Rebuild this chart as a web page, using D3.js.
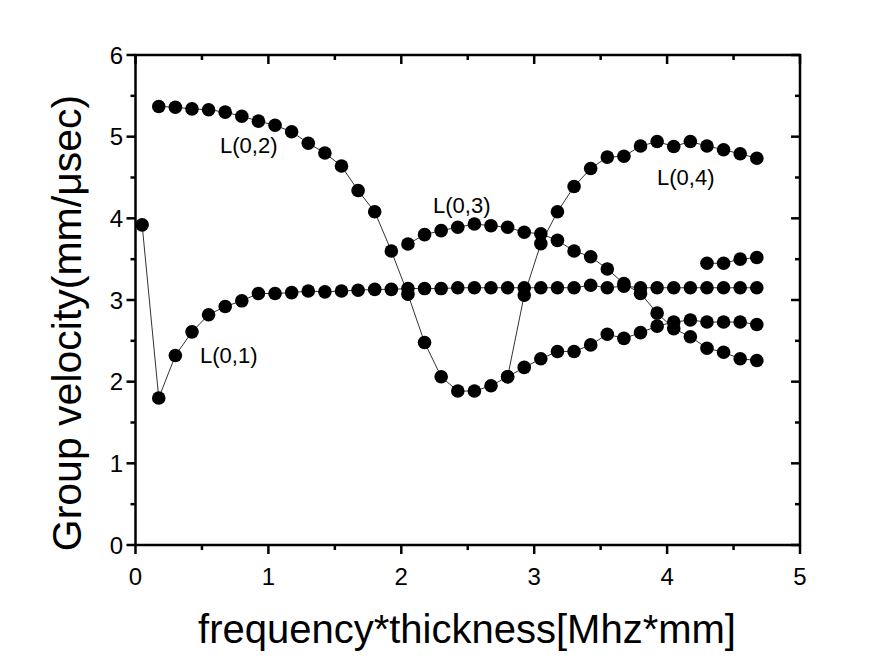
<!DOCTYPE html>
<html><head><meta charset="utf-8">
<script src="https://cdn.jsdelivr.net/npm/d3@7/dist/d3.min.js"></script>
<style>body{margin:0;background:#fff}svg{display:block}text{font-family:Arial,"Liberation Sans",sans-serif;fill:#000}</style>
</head><body><svg id="c" width="894" height="670"></svg>
<script>
// x values (frequency*thickness)
const xL01 = [0.05,0.175,0.3,0.425,0.55,0.675,0.8,0.925,1.05,1.175,1.3,1.425,1.55,1.675,1.8,1.925,2.05,2.175,2.3,2.425,2.55,2.675,2.8,2.925,3.05,3.175,3.3,3.425,3.55,3.675,3.8,3.925,4.05,4.175,4.3,4.425,4.55,4.675];
const yL01 = [3.92,1.80,2.32,2.61,2.82,2.92,2.99,3.08,3.08,3.09,3.11,3.10,3.11,3.12,3.13,3.13,3.14,3.14,3.14,3.15,3.15,3.15,3.15,3.15,3.15,3.15,3.15,3.18,3.15,3.17,3.15,3.15,3.15,3.15,3.15,3.15,3.15,3.15];

const xL02 = [0.175,0.3,0.425,0.55,0.675,0.8,0.925,1.05,1.175,1.3,1.425,1.55,1.675,1.8,1.925,2.05,2.175,2.3,2.425,2.55,2.675,2.8,2.925,3.05,3.175,3.3,3.425,3.55,3.675,3.8,3.925,4.05,4.175,4.3,4.425,4.55,4.675];
const yL02 = [5.37,5.36,5.34,5.33,5.30,5.25,5.19,5.14,5.06,4.92,4.80,4.64,4.34,4.08,3.60,3.07,2.48,2.06,1.885,1.885,1.95,2.06,3.06,3.69,4.08,4.39,4.61,4.75,4.76,4.885,4.94,4.88,4.94,4.885,4.84,4.79,4.735];

const xL03 = [2.05,2.175,2.3,2.425,2.55,2.675,2.8,2.925,3.05,3.175,3.3,3.425,3.55,3.675,3.8,3.925,4.05,4.175,4.3,4.425,4.55,4.675];
const yL03 = [3.685,3.80,3.85,3.89,3.93,3.91,3.89,3.83,3.81,3.73,3.60,3.53,3.38,3.20,3.08,2.84,2.65,2.55,2.41,2.36,2.28,2.26];

const xLow = [2.8,2.925,3.05,3.175,3.3,3.425,3.55,3.675,3.8,3.925,4.05,4.175,4.3,4.425,4.55,4.675];
const yLow = [2.06,2.175,2.28,2.37,2.37,2.45,2.58,2.53,2.60,2.68,2.73,2.755,2.73,2.73,2.73,2.70];

const xUp = [4.3,4.425,4.55,4.675];
const yUp = [3.45,3.45,3.50,3.52];

const xTicks = [0,1,2,3,4,5];
const yTicks = [0,1,2,3,4,5,6];
const modeLabels = ["L(0,1)","L(0,2)","L(0,3)","L(0,4)"];

const svg = d3.select("#c");
const x = d3.scaleLinear().domain([0,5]).range([135.5,800]);
const y = d3.scaleLinear().domain([0,6]).range([545,55]);

const series = [[xL01,yL01],[xL02,yL02],[xL03,yL03],[xLow,yLow],[xUp,yUp]];
const line = d3.line().x(d=>x(d[0])).y(d=>y(d[1]));
const g = svg.append("g");
series.forEach(([xs,ys])=>{
  const pts = xs.map((v,i)=>[v,ys[i]]);
  g.append("path").attr("d",line(pts)).attr("fill","none").attr("stroke","#333").attr("stroke-width",1);
});
series.forEach(([xs,ys])=>{
  const pts = xs.map((v,i)=>[v,ys[i]]);
  g.selectAll(null).data(pts).enter().append("circle")
    .attr("cx",d=>x(d[0])).attr("cy",d=>y(d[1])).attr("r",6.8).attr("fill","#000");
});

// frame and ticks
const minorX = d3.range(0,5.01,0.5), minorY = d3.range(0,6.01,0.5);
const f = svg.append("g").attr("stroke","#000").attr("stroke-width",2.5);
f.append("rect").attr("x",x(0)).attr("y",y(6)).attr("width",x(5)-x(0)).attr("height",y(0)-y(6)).attr("fill","none");
minorX.forEach(v=>{
  const L = Number.isInteger(v)?9:5;
  f.append("line").attr("x1",x(v)).attr("x2",x(v)).attr("y1",y(0)).attr("y2",y(0)+L);
  f.append("line").attr("x1",x(v)).attr("x2",x(v)).attr("y1",y(6)).attr("y2",y(6)+L);
});
minorY.forEach(v=>{
  const L = Number.isInteger(v)?9:5;
  f.append("line").attr("y1",y(v)).attr("y2",y(v)).attr("x1",x(0)).attr("x2",x(0)-L);
  f.append("line").attr("y1",y(v)).attr("y2",y(v)).attr("x1",x(5)).attr("x2",x(5)-L);
});

svg.selectAll(null).data(xTicks).enter().append("text")
  .attr("x",d=>x(d)).attr("y",585).attr("text-anchor","middle").attr("font-size",24).text(d=>d);
svg.selectAll(null).data(yTicks).enter().append("text")
  .attr("x",123).attr("y",d=>y(d)+8.5).attr("text-anchor","end").attr("font-size",24).text(d=>d);

svg.append("text").attr("x",467).attr("y",643).attr("text-anchor","middle").attr("font-size",40)
  .text("frequency*thickness[Mhz*mm]");
svg.append("text").attr("transform","translate(81,323) rotate(-90)").attr("text-anchor","middle").attr("font-size",41)
  .text("Group velocity(mm/\u03BCsec)");

const labPos = [[200,363],[220,153],[433,213],[657,185]];
modeLabels.forEach((t,i)=>{
  svg.append("text").attr("x",labPos[i][0]).attr("y",labPos[i][1]).attr("font-size",22).text(t);
});
</script></body></html>
